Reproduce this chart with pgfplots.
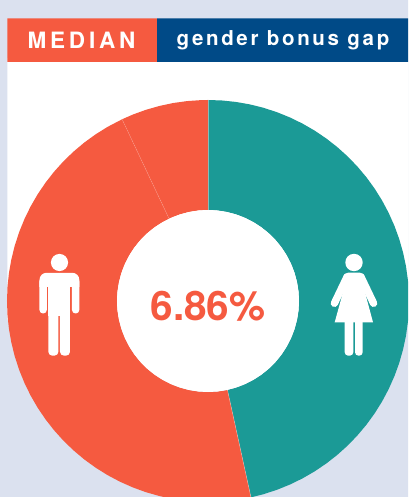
\documentclass[border=0pt]{standalone}
\usepackage{fontspec}
\setmainfont{TeX Gyre Heros}
\usepackage{pgfplots}
\pgfplotsset{compat=1.18}
\definecolor{bgl}{HTML}{DBE1EF}
\definecolor{orng}{HTML}{F55A40}
\definecolor{teal2}{HTML}{1B9A96}
\definecolor{navy}{HTML}{004A87}
\begin{document}
\begin{tikzpicture}
\begin{axis}[x=1pt,y=1pt,xmin=-208,xmax=200,ymin=-196,ymax=301,hide axis,clip=true,anchor=origin]
% page background, white panel, header (centre-based pixel frame)
\addplot[fill=bgl,draw=none] coordinates {(-208,-196)(200,-196)(200,301)(-208,301)(-208,-196)};
\addplot[fill=white,draw=none] coordinates {(-200.5,-19)(200,-19)(200,243)(-200.5,243)(-200.5,-19)};
\addplot[fill=orng,draw=none] coordinates {(-200.5,239)(-51,239)(-51,282.5)(-200.5,282.5)(-200.5,239)};
\addplot[fill=navy,draw=none] coordinates {(-51,239)(200,239)(200,282.5)(-51,282.5)(-51,239)};
% women: 46.57 %
\addplot[data cs=polar,fill=teal2,draw=none] coordinates {
(90,201)(86,201)(82,201)(78,201)(74,201)(70,201)(66,201)(62,201)(58,201)(54,201)(50,201)(46,201)(42,201)(38,201)(34,201)(30,201)(26,201)(22,201)(18,201)(14,201)(10,201)(6,201)(2,201)(-2,201)(-6,201)(-10,201)(-14,201)(-18,201)(-22,201)(-26,201)(-30,201)(-34,201)(-38,201)(-42,201)(-46,201)(-50,201)(-54,201)(-58,201)(-62,201)(-66,201)(-70,201)(-74,201)(-77.65,201)
(-77.65,91)(-74,91)(-70,91)(-66,91)(-62,91)(-58,91)(-54,91)(-50,91)(-46,91)(-42,91)(-38,91)(-34,91)(-30,91)(-26,91)(-22,91)(-18,91)(-14,91)(-10,91)(-6,91)(-2,91)(2,91)(6,91)(10,91)(14,91)(18,91)(22,91)(26,91)(30,91)(34,91)(38,91)(42,91)(46,91)(50,91)(54,91)(58,91)(62,91)(66,91)(70,91)(74,91)(78,91)(82,91)(86,91)(90,91)(90,201)};
% men: 46.57 %
\addplot[data cs=polar,fill=orng,draw=none] coordinates {
(-77.65,201)(-80,201)(-84,201)(-88,201)(-92,201)(-96,201)(-100,201)(-104,201)(-108,201)(-112,201)(-116,201)(-120,201)(-124,201)(-128,201)(-132,201)(-136,201)(-140,201)(-144,201)(-148,201)(-152,201)(-156,201)(-160,201)(-164,201)(-168,201)(-172,201)(-176,201)(-180,201)(-184,201)(-188,201)(-192,201)(-196,201)(-200,201)(-204,201)(-208,201)(-212,201)(-216,201)(-220,201)(-224,201)(-228,201)(-232,201)(-236,201)(-240,201)(-244.7,201)
(-244.7,91)(-240,91)(-236,91)(-232,91)(-228,91)(-224,91)(-220,91)(-216,91)(-212,91)(-208,91)(-204,91)(-200,91)(-196,91)(-192,91)(-188,91)(-184,91)(-180,91)(-176,91)(-172,91)(-168,91)(-164,91)(-160,91)(-156,91)(-152,91)(-148,91)(-144,91)(-140,91)(-136,91)(-132,91)(-128,91)(-124,91)(-120,91)(-116,91)(-112,91)(-108,91)(-104,91)(-100,91)(-96,91)(-92,91)(-88,91)(-84,91)(-80,91)(-77.65,91)(-77.65,201)};
% gap: 6.86 %
\addplot[data cs=polar,fill=orng,draw=none] coordinates {
(-244.7,201)(-248,201)(-252,201)(-256,201)(-260,201)(-264,201)(-268,201)(-270,201)
(-270,91)(-268,91)(-264,91)(-260,91)(-256,91)(-252,91)(-248,91)(-244.7,91)(-244.7,201)};
% hole of the ring
\addplot[data cs=polar,fill=white,draw=none] coordinates {
(0,91)(6,91)(12,91)(18,91)(24,91)(30,91)(36,91)(42,91)(48,91)(54,91)(60,91)(66,91)(72,91)(78,91)(84,91)(90,91)(96,91)(102,91)(108,91)(114,91)(120,91)(126,91)(132,91)(138,91)(144,91)(150,91)(156,91)(162,91)(168,91)(174,91)(180,91)(186,91)(192,91)(198,91)(204,91)(210,91)(216,91)(222,91)(228,91)(234,91)(240,91)(246,91)(252,91)(258,91)(264,91)(270,91)(276,91)(282,91)(288,91)(294,91)(300,91)(306,91)(312,91)(318,91)(324,91)(330,91)(336,91)(342,91)(348,91)(354,91)(360,91)};
% thin seams
\addplot[data cs=polar,white,opacity=0.22,line width=0.5pt] coordinates {(-244.7,91)(-244.7,201)};
\addplot[data cs=polar,white,opacity=0.4,line width=0.5pt] coordinates {(-77.65,91)(-77.65,201)};
\addplot[data cs=polar,white,opacity=0.4,line width=0.5pt] coordinates {(90,91)(90,201)};
\begin{scope}[shift={(axis cs:-208,301)},x=1pt,y=-1pt]
% man
\fill[white] (59.5,262.5) circle[radius=8.6pt];
\fill[white] (39.5,287) [rounded corners=7pt] -- (39.5,272.8) -- (79.3,272.8) [sharp corners] -- (79.3,287) -- cycle;
\fill[white,rounded corners=3.5pt] (39.5,278) -- (39.5,313.5) -- (46.8,313.5) -- (46.8,278) -- cycle;
\fill[white,rounded corners=3.5pt] (72,278) -- (72,313.5) -- (79.3,313.5) -- (79.3,278) -- cycle;
\fill[white] (48.3,278) rectangle (70,316);
\fill[white,rounded corners=4pt] (48.3,305) -- (48.3,355.7) -- (58.4,355.7) -- (58.4,305) -- cycle;
\fill[white,rounded corners=4pt] (60,305) -- (60,355.7) -- (70,355.7) -- (70,305) -- cycle;
% woman
\fill[white] (354,262.5) circle[radius=8.7pt];
\fill[white] (345,285) -- (334.7,322.3) -- (373,322.3) -- (363,285) -- cycle;
\fill[white,rounded corners=5pt] (343,295) -- (343,272.7) -- (365,272.7) -- (365,295) -- cycle;
\draw[white,line width=7.4pt,line cap=round] (347,277) -- (334.4,303.3);
\draw[white,line width=7.4pt,line cap=round] (361,277) -- (373.6,303.3);
\fill[white,rounded corners=3.5pt] (344.7,315) -- (344.7,355.7) -- (353.3,355.7) -- (353.3,315) -- cycle;
\fill[white,rounded corners=3.5pt] (355,315) -- (355,355.7) -- (362.7,355.7) -- (362.7,315) -- cycle;
% texts
\node[white,font=\fontsize{22.5}{24}\selectfont\bfseries\addfontfeature{LetterSpace=17}] at (81.5,40) {MEDIAN};
\node[white,font=\fontsize{20.5}{22}\selectfont\bfseries\addfontfeature{LetterSpace=13}] at (283,40.5) {gender bonus gap};
\node[orng,font=\fontsize{40.5}{42}\selectfont\bfseries] at (208,306) {6.86\%};
\end{scope}
\end{axis}
\end{tikzpicture}
\end{document}
